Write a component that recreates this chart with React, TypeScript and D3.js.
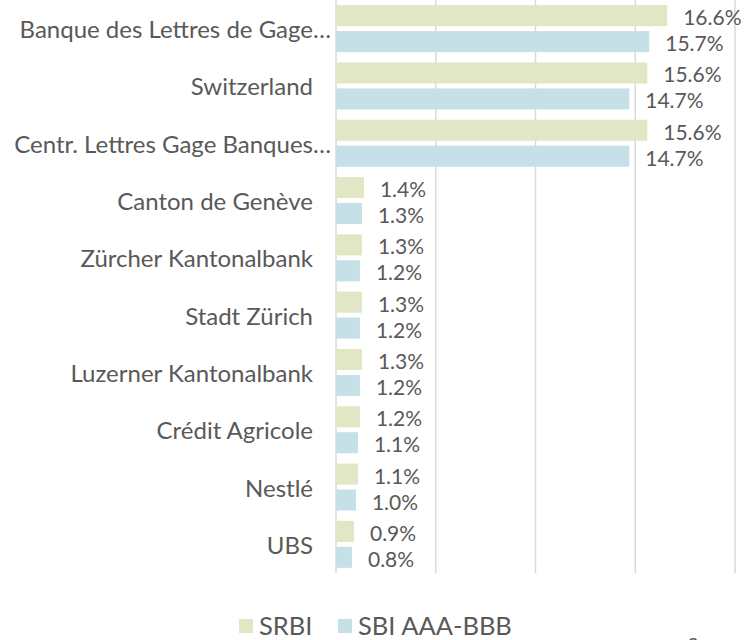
import React, { useRef, useEffect } from "react";
import * as d3 from "d3";

const categories = [
  "Banque des Lettres de Gage…",
  "Switzerland",
  "Centr. Lettres Gage Banques…",
  "Canton de Genève",
  "Zürcher Kantonalbank",
  "Stadt Zürich",
  "Luzerner Kantonalbank",
  "Crédit Agricole",
  "Nestlé",
  "UBS",
];
const seriesNames = ["SRBI", "SBI AAA-BBB"];
const srbi = [16.6, 15.6, 15.6, 1.4, 1.3, 1.3, 1.3, 1.2, 1.1, 0.9];
const sbi = [15.7, 14.7, 14.7, 1.3, 1.2, 1.2, 1.2, 1.1, 1.0, 0.8];
const gridTicks = [0, 5, 10, 15, 20];

const colors = ["#e1e6c4", "#c5e0e6"];
const textColor = "#595959";
const font = "Lato, 'Open Sans', sans-serif";

const W = 745;
const H = 640;

const App = () => {
  const svgRef = useRef<SVGSVGElement>(null);

  useEffect(() => {
    const svg = d3.select(svgRef.current);
    svg.selectAll("*").remove();

    const x = d3.scaleLinear().domain([0, 20]).range([336, 735]);
    const y = d3
      .scaleBand()
      .domain(categories)
      .range([0, 573])
      .paddingInner(0.18)
      .paddingOuter(0.09);
    const ySub = d3
      .scaleBand()
      .domain(seriesNames)
      .range([0, y.bandwidth()])
      .paddingInner(0.19);

    // grid
    svg
      .append("g")
      .selectAll("line")
      .data(gridTicks)
      .enter()
      .append("line")
      .attr("x1", (d) => x(d))
      .attr("x2", (d) => x(d))
      .attr("y1", 0)
      .attr("y2", 573)
      .attr("stroke", "#d9d9d9")
      .attr("stroke-width", 1.5);

    const rows = categories.map((c, i) => ({ c, vals: [srbi[i], sbi[i]] }));

    const groups = svg
      .append("g")
      .selectAll("g")
      .data(rows)
      .enter()
      .append("g")
      .attr("transform", (d) => `translate(0, ${y(d.c)})`);

    groups
      .selectAll("rect")
      .data((d) => d.vals.map((v, j) => ({ v, s: seriesNames[j], j })))
      .enter()
      .append("rect")
      .attr("x", x(0))
      .attr("y", (d) => ySub(d.s)!)
      .attr("width", (d) => x(d.v) - x(0))
      .attr("height", ySub.bandwidth())
      .attr("fill", (d) => colors[d.j]);

    groups
      .selectAll("text.val")
      .data((d) => d.vals.map((v, j) => ({ v, s: seriesNames[j] })))
      .enter()
      .append("text")
      .attr("class", "val")
      .attr("x", (d) => x(d.v) + 16)
      .attr("y", (d) => ySub(d.s)! + ySub.bandwidth() / 2 + 1)
      .attr("dominant-baseline", "central")
      .attr("font-family", font)
      .attr("font-size", 21)
      .attr("fill", textColor)
      .text((d) => d.v.toFixed(1) + "%");

    // category labels
    groups
      .append("text")
      .attr("x", (d) => (d.c.endsWith("…") ? x(0) - 5 : x(0) - 23))
      .attr("y", y.bandwidth() / 2)
      .attr("dominant-baseline", "central")
      .attr("text-anchor", "end")
      .attr("font-family", font)
      .attr("font-size", 24)
      .attr("fill", textColor)
      .text((d) => d.c);

    // legend
    const legendX = [239, 338];
    const legend = svg
      .append("g")
      .selectAll("g")
      .data(seriesNames)
      .enter()
      .append("g")
      .attr("transform", (d, i) => `translate(${legendX[i]}, 619)`);
    legend
      .append("rect")
      .attr("width", 14)
      .attr("height", 14)
      .attr("fill", (d, i) => colors[i]);
    legend
      .append("text")
      .attr("x", 20)
      .attr("y", 16)
      .attr("font-family", font)
      .attr("font-size", 25.5)
      .attr("fill", textColor)
      .text((d) => d);

    svg
      .append("text")
      .attr("x", 688)
      .attr("y", 651)
      .attr("font-family", font)
      .attr("font-size", 18)
      .attr("fill", textColor)
      .text("Source");
  }, []);

  return (
    <div style={{ position: "absolute", left: 0, top: 0 }}>
      <svg ref={svgRef} width={W} height={H} style={{ display: "block", background: "#fff" }}></svg>
    </div>
  );
};

export default App;
